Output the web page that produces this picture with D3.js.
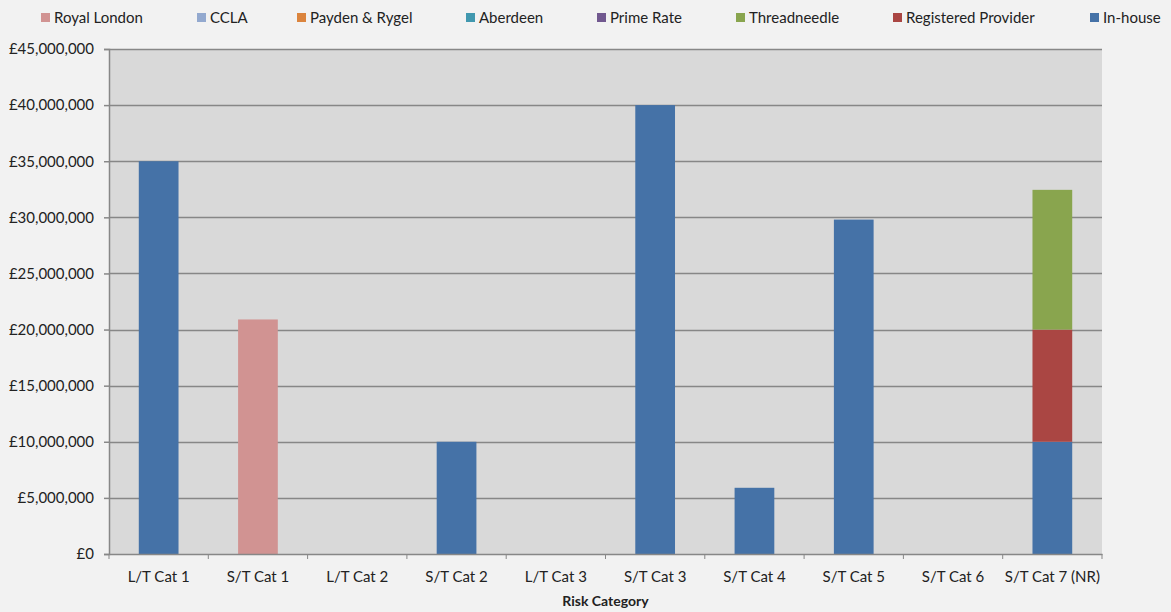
<!DOCTYPE html>
<html>
<head>
<meta charset="utf-8">
<script src="https://cdn.jsdelivr.net/npm/d3@7"></script>
<style>
  body { margin: 0; background: #f2f2f2; }
  svg text { font-family: Lato, "Open Sans", sans-serif; fill: #222; }
</style>
</head>
<body>
<div id="chart"></div>
<script>
const categories = ['L/T Cat 1', 'S/T Cat 1', 'L/T Cat 2', 'S/T Cat 2', 'L/T Cat 3', 'S/T Cat 3', 'S/T Cat 4', 'S/T Cat 5', 'S/T Cat 6', 'S/T Cat 7 (NR)'];
// stacked bottom to top
const seriesNames = ['In-house', 'Registered Provider', 'Threadneedle', 'Prime Rate', 'Aberdeen', 'Payden & Rygel', 'CCLA', 'Royal London'];
const inHouse = [35000000, 0, 0, 10000000, 0, 40000000, 5900000, 29800000, 0, 10000000];
const registeredProvider = [0, 0, 0, 0, 0, 0, 0, 0, 0, 10000000];
const threadneedle = [0, 0, 0, 0, 0, 0, 0, 0, 0, 12450000];
const primeRate = [0, 0, 0, 0, 0, 0, 0, 0, 0, 0];
const aberdeen = [0, 0, 0, 0, 0, 0, 0, 0, 0, 0];
const paydenRygel = [0, 0, 0, 0, 0, 0, 0, 0, 0, 0];
const ccla = [0, 0, 0, 0, 0, 0, 0, 0, 0, 0];
const royalLondon = [0, 20900000, 0, 0, 0, 0, 0, 0, 0, 0];
const seriesColors = ['#4572a7', '#aa4643', '#89a54e', '#71588f', '#4198af', '#db843d', '#93a9cf', '#d19392'];
const yTicks = [0, 5000000, 10000000, 15000000, 20000000, 25000000, 30000000, 35000000, 40000000, 45000000];
// legend order left to right
const legendOrder = ['Royal London', 'CCLA', 'Payden & Rygel', 'Aberdeen', 'Prime Rate', 'Threadneedle', 'Registered Provider', 'In-house'];
const legendX = [41, 197, 297, 466, 597, 736, 893, 1090];

const w = 1171, h = 612;
const padLeft = 109, padRight = 1102, padTop = 49, padBottom = 554;

const allValues = [inHouse, registeredProvider, threadneedle, primeRate, aberdeen, paydenRygel, ccla, royalLondon];
const table = categories.map((c, i) => {
  const row = { category: c };
  seriesNames.forEach((s, j) => { row[s] = allValues[j][i]; });
  return row;
});
const stacked = d3.stack().keys(seriesNames)(table);
const color = d3.scaleOrdinal().domain(seriesNames).range(seriesColors);

const svg = d3.select('#chart').append('svg')
  .attr('width', w)
  .attr('height', h);

const xScale = d3.scaleBand()
  .domain(categories)
  .range([padLeft, padRight]);
const yScale = d3.scaleLinear()
  .domain([0, 45000000])
  .range([padBottom, padTop]);

svg.append('rect')
  .attr('x', padLeft)
  .attr('y', padTop)
  .attr('width', padRight - padLeft)
  .attr('height', padBottom - padTop)
  .attr('fill', '#d9d9d9');

// gridlines
svg.append('g')
  .selectAll('line')
  .data(yTicks.slice(1))
  .enter()
  .append('line')
  .attr('x1', padLeft)
  .attr('x2', padRight)
  .attr('y1', d => Math.round(yScale(d)) + 0.5)
  .attr('y2', d => Math.round(yScale(d)) + 0.5)
  .attr('stroke', '#878787')
  .attr('stroke-width', 1.3);

const barW = xScale.bandwidth() * 0.4;
svg.append('g')
  .selectAll('g')
  .data(stacked)
  .enter()
  .append('g')
  .attr('fill', d => color(d.key))
  .selectAll('rect')
  .data(d => d)
  .enter()
  .append('rect')
  .attr('x', d => xScale(d.data.category) + (xScale.bandwidth() - barW) / 2)
  .attr('width', barW)
  .attr('y', d => yScale(d[1]))
  .attr('height', d => yScale(d[0]) - yScale(d[1]));

const yAxis = d3.axisLeft(yScale)
  .tickValues(yTicks)
  .tickSize(5)
  .tickPadding(10)
  .tickFormat(d => '£' + d3.format(',')(d));
const yG = svg.append('g')
  .attr('transform', 'translate(' + padLeft + ', 0)')
  .call(yAxis);
yG.selectAll('text').style('font-size', '15px');

const xAxis = d3.axisBottom(xScale)
  .tickSize(0)
  .tickPadding(17);
const xG = svg.append('g')
  .attr('transform', 'translate(0, ' + padBottom + ')')
  .call(xAxis);
xG.selectAll('text').style('font-size', '15px');
xG.selectAll('.boundary')
  .data(categories.map(c => xScale(c)).concat([padRight]))
  .enter()
  .append('line')
  .attr('x1', d => d)
  .attr('x2', d => d)
  .attr('y1', 0)
  .attr('y2', 5)
  .attr('stroke', '#878787');

svg.selectAll('.domain, .tick line').attr('stroke', '#878787').attr('stroke-width', 1.5);

svg.append('text')
  .attr('x', (padLeft + padRight) / 2)
  .attr('y', 606)
  .attr('text-anchor', 'middle')
  .style('font-size', '14px')
  .style('font-weight', 'bold')
  .text('Risk Category');

const legend = svg.append('g');
legend.selectAll('rect')
  .data(legendOrder)
  .enter()
  .append('rect')
  .attr('x', (d, i) => legendX[i])
  .attr('y', 13)
  .attr('width', 9)
  .attr('height', 9)
  .attr('fill', d => color(d));
legend.selectAll('text')
  .data(legendOrder)
  .enter()
  .append('text')
  .attr('x', (d, i) => legendX[i] + 13)
  .attr('y', 23)
  .style('font-size', '15px')
  .text(d => d);
</script>
</body>
</html>
